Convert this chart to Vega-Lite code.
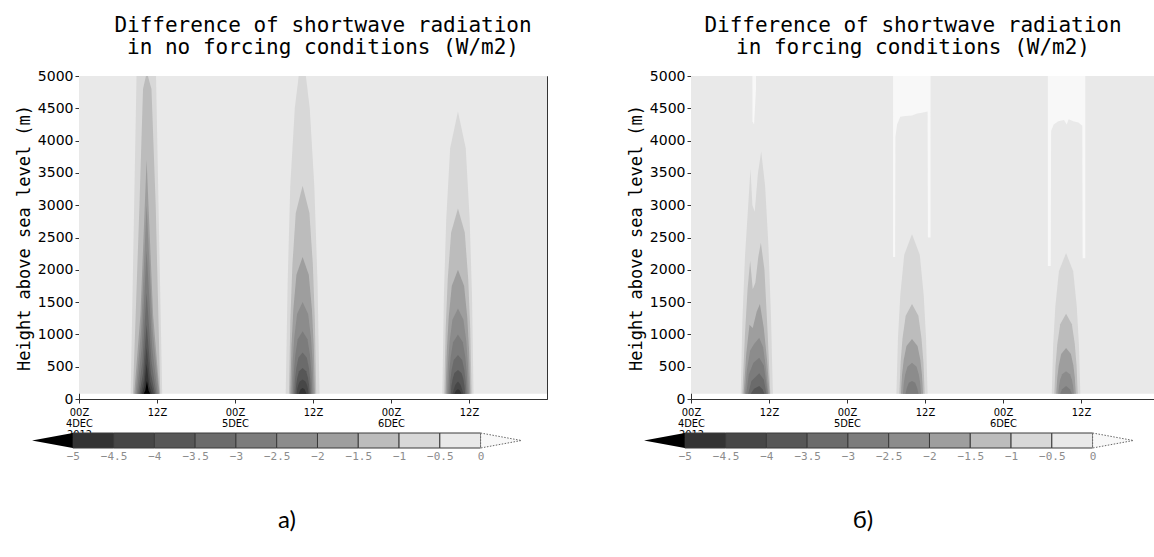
{
"$schema": "https://vega.github.io/schema/vega-lite/v6.json",
"background": "white",
"padding": {"left": 14, "top": 14, "right": 0, "bottom": 0},
"spacing": 32,
"config": {
  "font": "DejaVu Sans",
  "view": {"stroke": "#333333", "strokeWidth": 1},
  "title": {"font": "DejaVu Sans Mono", "fontSize": 21, "fontWeight": "normal", "color": "#000000", "lineHeight": 22, "offset": 11, "anchor": "middle"},
  "axis": {"grid": false, "domainColor": "#333333", "tickColor": "#333333", "labelColor": "#000000", "titleColor": "#000000", "titleFontWeight": "normal", "labelFont": "DejaVu Sans", "titleFont": "DejaVu Sans Mono"}
},
"datasets": {
  "A": [
    {"band":"k00","plume":"bg","t":0,"lo":80,"hi":5000},{"band":"k00","plume":"bg","t":72,"lo":80,"hi":5000},
    {"band":"k02","plume":"A","t":7.95,"lo":80,"hi":80},{"band":"k02","plume":"A","t":8.85,"lo":80,"hi":5000},{"band":"k02","plume":"A","t":11.85,"lo":80,"hi":5000},{"band":"k02","plume":"A","t":12.8,"lo":80,"hi":80},
    {"band":"k02","plume":"B","t":31.8,"lo":80,"hi":80},{"band":"k02","plume":"B","t":32.1,"lo":80,"hi":1800},{"band":"k02","plume":"B","t":32.5,"lo":80,"hi":3300},{"band":"k02","plume":"B","t":33.2,"lo":80,"hi":4500},{"band":"k02","plume":"B","t":33.8,"lo":80,"hi":5000},{"band":"k02","plume":"B","t":34.9,"lo":80,"hi":5000},{"band":"k02","plume":"B","t":35.5,"lo":80,"hi":4500},{"band":"k02","plume":"B","t":36.2,"lo":80,"hi":3300},{"band":"k02","plume":"B","t":36.7,"lo":80,"hi":1800},{"band":"k02","plume":"B","t":37.0,"lo":80,"hi":80},
    {"band":"k02","plume":"C","t":55.9,"lo":80,"hi":80},{"band":"k02","plume":"C","t":56.14,"lo":80,"hi":1610},{"band":"k02","plume":"C","t":56.5,"lo":80,"hi":2789},{"band":"k02","plume":"C","t":57.1,"lo":80,"hi":3882},{"band":"k02","plume":"C","t":58.3,"lo":80,"hi":4450},{"band":"k02","plume":"C","t":59.5,"lo":80,"hi":3882},{"band":"k02","plume":"C","t":60.1,"lo":80,"hi":2789},{"band":"k02","plume":"C","t":60.46,"lo":80,"hi":1610},{"band":"k02","plume":"C","t":60.7,"lo":80,"hi":80},
    {"band":"k03","plume":"A","t":8.3,"lo":80,"hi":80},{"band":"k03","plume":"A","t":9.3,"lo":80,"hi":3000},{"band":"k03","plume":"A","t":9.85,"lo":80,"hi":4800},{"band":"k03","plume":"A","t":10.3,"lo":80,"hi":5000},{"band":"k03","plume":"A","t":10.6,"lo":80,"hi":5000},{"band":"k03","plume":"A","t":11.15,"lo":80,"hi":4800},{"band":"k03","plume":"A","t":11.8,"lo":80,"hi":3000},{"band":"k03","plume":"A","t":12.5,"lo":80,"hi":80},
    {"band":"k03","plume":"B","t":32.3,"lo":80,"hi":80},{"band":"k03","plume":"B","t":32.51,"lo":80,"hi":1207},{"band":"k03","plume":"B","t":32.83,"lo":80,"hi":2076},{"band":"k03","plume":"B","t":33.35,"lo":80,"hi":2881},{"band":"k03","plume":"B","t":34.4,"lo":80,"hi":3300},{"band":"k03","plume":"B","t":35.45,"lo":80,"hi":2881},{"band":"k03","plume":"B","t":35.98,"lo":80,"hi":2076},{"band":"k03","plume":"B","t":36.29,"lo":80,"hi":1207},{"band":"k03","plume":"B","t":36.5,"lo":80,"hi":80},
    {"band":"k03","plume":"C","t":56.2,"lo":80,"hi":80},{"band":"k03","plume":"C","t":56.41,"lo":80,"hi":1085},{"band":"k03","plume":"C","t":56.73,"lo":80,"hi":1859},{"band":"k03","plume":"C","t":57.25,"lo":80,"hi":2577},{"band":"k03","plume":"C","t":58.3,"lo":80,"hi":2950},{"band":"k03","plume":"C","t":59.35,"lo":80,"hi":2577},{"band":"k03","plume":"C","t":59.88,"lo":80,"hi":1859},{"band":"k03","plume":"C","t":60.19,"lo":80,"hi":1085},{"band":"k03","plume":"C","t":60.4,"lo":80,"hi":80},
    {"band":"k04","plume":"A","t":8.5,"lo":80,"hi":80},{"band":"k04","plume":"A","t":9.45,"lo":80,"hi":1300},{"band":"k04","plume":"A","t":10.4,"lo":80,"hi":3700},{"band":"k04","plume":"A","t":11.4,"lo":80,"hi":1300},{"band":"k04","plume":"A","t":12.4,"lo":80,"hi":80},
    {"band":"k04","plume":"B","t":32.5,"lo":80,"hi":80},{"band":"k04","plume":"B","t":32.69,"lo":80,"hi":822},{"band":"k04","plume":"B","t":32.98,"lo":80,"hi":1394},{"band":"k04","plume":"B","t":33.45,"lo":80,"hi":1924},{"band":"k04","plume":"B","t":34.4,"lo":80,"hi":2200},{"band":"k04","plume":"B","t":35.35,"lo":80,"hi":1924},{"band":"k04","plume":"B","t":35.83,"lo":80,"hi":1394},{"band":"k04","plume":"B","t":36.11,"lo":80,"hi":822},{"band":"k04","plume":"B","t":36.3,"lo":80,"hi":80},
    {"band":"k04","plume":"C","t":56.4,"lo":80,"hi":80},{"band":"k04","plume":"C","t":56.59,"lo":80,"hi":752},{"band":"k04","plume":"C","t":56.88,"lo":80,"hi":1270},{"band":"k04","plume":"C","t":57.35,"lo":80,"hi":1750},{"band":"k04","plume":"C","t":58.3,"lo":80,"hi":2000},{"band":"k04","plume":"C","t":59.25,"lo":80,"hi":1750},{"band":"k04","plume":"C","t":59.73,"lo":80,"hi":1270},{"band":"k04","plume":"C","t":60.01,"lo":80,"hi":752},{"band":"k04","plume":"C","t":60.2,"lo":80,"hi":80},
    {"band":"k05","plume":"A","t":8.7,"lo":80,"hi":80},{"band":"k05","plume":"A","t":9.55,"lo":80,"hi":1050},{"band":"k05","plume":"A","t":10.4,"lo":80,"hi":3000},{"band":"k05","plume":"A","t":11.35,"lo":80,"hi":1050},{"band":"k05","plume":"A","t":12.3,"lo":80,"hi":80},
    {"band":"k05","plume":"B","t":32.7,"lo":80,"hi":80},{"band":"k05","plume":"B","t":32.87,"lo":80,"hi":577},{"band":"k05","plume":"B","t":33.13,"lo":80,"hi":960},{"band":"k05","plume":"B","t":33.55,"lo":80,"hi":1315},{"band":"k05","plume":"B","t":34.4,"lo":80,"hi":1500},{"band":"k05","plume":"B","t":35.25,"lo":80,"hi":1315},{"band":"k05","plume":"B","t":35.68,"lo":80,"hi":960},{"band":"k05","plume":"B","t":35.93,"lo":80,"hi":577},{"band":"k05","plume":"B","t":36.1,"lo":80,"hi":80},
    {"band":"k05","plume":"C","t":56.6,"lo":80,"hi":80},{"band":"k05","plume":"C","t":56.77,"lo":80,"hi":542},{"band":"k05","plume":"C","t":57.03,"lo":80,"hi":898},{"band":"k05","plume":"C","t":57.45,"lo":80,"hi":1228},{"band":"k05","plume":"C","t":58.3,"lo":80,"hi":1400},{"band":"k05","plume":"C","t":59.15,"lo":80,"hi":1228},{"band":"k05","plume":"C","t":59.58,"lo":80,"hi":898},{"band":"k05","plume":"C","t":59.83,"lo":80,"hi":542},{"band":"k05","plume":"C","t":60.0,"lo":80,"hi":80},
    {"band":"k06","plume":"A","t":8.9,"lo":80,"hi":80},{"band":"k06","plume":"A","t":9.65,"lo":80,"hi":800},{"band":"k06","plume":"A","t":10.4,"lo":80,"hi":2300},{"band":"k06","plume":"A","t":11.25,"lo":80,"hi":800},{"band":"k06","plume":"A","t":12.1,"lo":80,"hi":80},
    {"band":"k06","plume":"B","t":32.9,"lo":80,"hi":80},{"band":"k06","plume":"B","t":33.05,"lo":80,"hi":420},{"band":"k06","plume":"B","t":33.28,"lo":80,"hi":681},{"band":"k06","plume":"B","t":33.65,"lo":80,"hi":924},{"band":"k06","plume":"B","t":34.4,"lo":80,"hi":1050},{"band":"k06","plume":"B","t":35.15,"lo":80,"hi":924},{"band":"k06","plume":"B","t":35.53,"lo":80,"hi":681},{"band":"k06","plume":"B","t":35.75,"lo":80,"hi":420},{"band":"k06","plume":"B","t":35.9,"lo":80,"hi":80},
    {"band":"k06","plume":"C","t":56.8,"lo":80,"hi":80},{"band":"k06","plume":"C","t":56.95,"lo":80,"hi":402},{"band":"k06","plume":"C","t":57.18,"lo":80,"hi":650},{"band":"k06","plume":"C","t":57.55,"lo":80,"hi":880},{"band":"k06","plume":"C","t":58.3,"lo":80,"hi":1000},{"band":"k06","plume":"C","t":59.05,"lo":80,"hi":880},{"band":"k06","plume":"C","t":59.43,"lo":80,"hi":650},{"band":"k06","plume":"C","t":59.65,"lo":80,"hi":402},{"band":"k06","plume":"C","t":59.8,"lo":80,"hi":80},
    {"band":"k07","plume":"A","t":9.1,"lo":80,"hi":80},{"band":"k07","plume":"A","t":9.75,"lo":80,"hi":580},{"band":"k07","plume":"A","t":10.4,"lo":80,"hi":1650},{"band":"k07","plume":"A","t":11.15,"lo":80,"hi":580},{"band":"k07","plume":"A","t":11.9,"lo":80,"hi":80},
    {"band":"k07","plume":"B","t":33.1,"lo":80,"hi":80},{"band":"k07","plume":"B","t":33.23,"lo":80,"hi":304},{"band":"k07","plume":"B","t":33.43,"lo":80,"hi":477},{"band":"k07","plume":"B","t":33.75,"lo":80,"hi":637},{"band":"k07","plume":"B","t":34.4,"lo":80,"hi":720},{"band":"k07","plume":"B","t":35.05,"lo":80,"hi":637},{"band":"k07","plume":"B","t":35.38,"lo":80,"hi":477},{"band":"k07","plume":"B","t":35.57,"lo":80,"hi":304},{"band":"k07","plume":"B","t":35.7,"lo":80,"hi":80},
    {"band":"k07","plume":"C","t":57.0,"lo":80,"hi":80},{"band":"k07","plume":"C","t":57.13,"lo":80,"hi":290},{"band":"k07","plume":"C","t":57.33,"lo":80,"hi":452},{"band":"k07","plume":"C","t":57.65,"lo":80,"hi":602},{"band":"k07","plume":"C","t":58.3,"lo":80,"hi":680},{"band":"k07","plume":"C","t":58.95,"lo":80,"hi":602},{"band":"k07","plume":"C","t":59.28,"lo":80,"hi":452},{"band":"k07","plume":"C","t":59.47,"lo":80,"hi":290},{"band":"k07","plume":"C","t":59.6,"lo":80,"hi":80},
    {"band":"k08","plume":"A","t":9.3,"lo":80,"hi":80},{"band":"k08","plume":"A","t":9.85,"lo":80,"hi":400},{"band":"k08","plume":"A","t":10.4,"lo":80,"hi":1150},{"band":"k08","plume":"A","t":11.05,"lo":80,"hi":400},{"band":"k08","plume":"A","t":11.7,"lo":80,"hi":80},
    {"band":"k08","plume":"B","t":33.3,"lo":80,"hi":80},{"band":"k08","plume":"B","t":33.41,"lo":80,"hi":220},{"band":"k08","plume":"B","t":33.58,"lo":80,"hi":328},{"band":"k08","plume":"B","t":33.85,"lo":80,"hi":428},{"band":"k08","plume":"B","t":34.4,"lo":80,"hi":480},{"band":"k08","plume":"B","t":34.95,"lo":80,"hi":428},{"band":"k08","plume":"B","t":35.23,"lo":80,"hi":328},{"band":"k08","plume":"B","t":35.39,"lo":80,"hi":220},{"band":"k08","plume":"B","t":35.5,"lo":80,"hi":80},
    {"band":"k08","plume":"C","t":57.2,"lo":80,"hi":80},{"band":"k08","plume":"C","t":57.31,"lo":80,"hi":210},{"band":"k08","plume":"C","t":57.48,"lo":80,"hi":309},{"band":"k08","plume":"C","t":57.75,"lo":80,"hi":402},{"band":"k08","plume":"C","t":58.3,"lo":80,"hi":450},{"band":"k08","plume":"C","t":58.85,"lo":80,"hi":402},{"band":"k08","plume":"C","t":59.13,"lo":80,"hi":309},{"band":"k08","plume":"C","t":59.29,"lo":80,"hi":210},{"band":"k08","plume":"C","t":59.4,"lo":80,"hi":80},
    {"band":"k09","plume":"A","t":9.5,"lo":80,"hi":80},{"band":"k09","plume":"A","t":9.95,"lo":80,"hi":280},{"band":"k09","plume":"A","t":10.4,"lo":80,"hi":800},{"band":"k09","plume":"A","t":10.95,"lo":80,"hi":280},{"band":"k09","plume":"A","t":11.5,"lo":80,"hi":80},
    {"band":"k09","plume":"B","t":33.5,"lo":80,"hi":80},{"band":"k09","plume":"B","t":33.59,"lo":80,"hi":157},{"band":"k09","plume":"B","t":33.73,"lo":80,"hi":216},{"band":"k09","plume":"B","t":33.95,"lo":80,"hi":271},{"band":"k09","plume":"B","t":34.4,"lo":80,"hi":300},{"band":"k09","plume":"B","t":34.85,"lo":80,"hi":271},{"band":"k09","plume":"B","t":35.08,"lo":80,"hi":216},{"band":"k09","plume":"B","t":35.21,"lo":80,"hi":157},{"band":"k09","plume":"B","t":35.3,"lo":80,"hi":80},
    {"band":"k09","plume":"C","t":57.45,"lo":80,"hi":80},{"band":"k09","plume":"C","t":57.9,"lo":80,"hi":220},{"band":"k09","plume":"C","t":58.3,"lo":80,"hi":270},{"band":"k09","plume":"C","t":58.7,"lo":80,"hi":220},{"band":"k09","plume":"C","t":59.15,"lo":80,"hi":80},
    {"band":"k10","plume":"A","t":9.7,"lo":80,"hi":80},{"band":"k10","plume":"A","t":10.05,"lo":80,"hi":200},{"band":"k10","plume":"A","t":10.4,"lo":80,"hi":550},{"band":"k10","plume":"A","t":10.8,"lo":80,"hi":200},{"band":"k10","plume":"A","t":11.2,"lo":80,"hi":80},
    {"band":"k10","plume":"B","t":33.8,"lo":80,"hi":80},{"band":"k10","plume":"B","t":34.1,"lo":80,"hi":150},{"band":"k10","plume":"B","t":34.4,"lo":80,"hi":170},{"band":"k10","plume":"B","t":34.7,"lo":80,"hi":150},{"band":"k10","plume":"B","t":35.0,"lo":80,"hi":80},
    {"band":"k10","plume":"C","t":57.75,"lo":80,"hi":80},{"band":"k10","plume":"C","t":58.0,"lo":80,"hi":130},{"band":"k10","plume":"C","t":58.3,"lo":80,"hi":150},{"band":"k10","plume":"C","t":58.6,"lo":80,"hi":130},{"band":"k10","plume":"C","t":58.85,"lo":80,"hi":80},
    {"band":"k11","plume":"A","t":9.95,"lo":80,"hi":80},{"band":"k11","plume":"A","t":10.2,"lo":80,"hi":130},{"band":"k11","plume":"A","t":10.45,"lo":80,"hi":280},{"band":"k11","plume":"A","t":10.7,"lo":80,"hi":130},{"band":"k11","plume":"A","t":10.95,"lo":80,"hi":80}
  ],
  "B": [
    {"band":"k00","plume":"bg","t":0,"lo":80,"hi":5000},{"band":"k00","plume":"bg","t":72,"lo":80,"hi":5000},
    {"band":"k01","plume":"A","t":9.45,"lo":4300,"hi":5000},{"band":"k01","plume":"A","t":9.7,"lo":4250,"hi":5000},{"band":"k01","plume":"A","t":10.0,"lo":4800,"hi":5000},
    {"band":"k01","plume":"B","t":31.09,"lo":2200,"hi":5000},{"band":"k01","plume":"B","t":31.4,"lo":2200,"hi":5000},{"band":"k01","plume":"B","t":31.45,"lo":4050,"hi":5000},{"band":"k01","plume":"B","t":31.7,"lo":4250,"hi":5000},{"band":"k01","plume":"B","t":32.2,"lo":4370,"hi":5000},{"band":"k01","plume":"B","t":33.0,"lo":4380,"hi":5000},{"band":"k01","plume":"B","t":34.0,"lo":4390,"hi":5000},{"band":"k01","plume":"B","t":34.8,"lo":4420,"hi":5000},{"band":"k01","plume":"B","t":35.5,"lo":4430,"hi":5000},{"band":"k01","plume":"B","t":36.4,"lo":4450,"hi":5000},{"band":"k01","plume":"B","t":36.45,"lo":2500,"hi":5000},{"band":"k01","plume":"B","t":36.85,"lo":2500,"hi":5000},
    {"band":"k01","plume":"C","t":54.9,"lo":2060,"hi":5000},{"band":"k01","plume":"C","t":55.35,"lo":2060,"hi":5000},{"band":"k01","plume":"C","t":55.4,"lo":4150,"hi":5000},{"band":"k01","plume":"C","t":55.8,"lo":4250,"hi":5000},{"band":"k01","plume":"C","t":56.5,"lo":4300,"hi":5000},{"band":"k01","plume":"C","t":57.4,"lo":4320,"hi":5000},{"band":"k01","plume":"C","t":57.8,"lo":4250,"hi":5000},{"band":"k01","plume":"C","t":58.1,"lo":4330,"hi":5000},{"band":"k01","plume":"C","t":58.8,"lo":4300,"hi":5000},{"band":"k01","plume":"C","t":59.6,"lo":4280,"hi":5000},{"band":"k01","plume":"C","t":60.2,"lo":4230,"hi":5000},{"band":"k01","plume":"C","t":60.25,"lo":2180,"hi":5000},{"band":"k01","plume":"C","t":60.65,"lo":2180,"hi":5000},
    {"band":"k02","plume":"A","t":7.65,"lo":80,"hi":80},{"band":"k02","plume":"A","t":7.9,"lo":80,"hi":1200},{"band":"k02","plume":"A","t":8.3,"lo":80,"hi":2200},{"band":"k02","plume":"A","t":8.8,"lo":80,"hi":3000},{"band":"k02","plume":"A","t":9.15,"lo":80,"hi":3560},{"band":"k02","plume":"A","t":9.45,"lo":80,"hi":3000},{"band":"k02","plume":"A","t":9.8,"lo":80,"hi":2900},{"band":"k02","plume":"A","t":10.3,"lo":80,"hi":3500},{"band":"k02","plume":"A","t":10.8,"lo":80,"hi":3830},{"band":"k02","plume":"A","t":11.4,"lo":80,"hi":3300},{"band":"k02","plume":"A","t":11.9,"lo":80,"hi":2400},{"band":"k02","plume":"A","t":12.3,"lo":80,"hi":1300},{"band":"k02","plume":"A","t":12.6,"lo":80,"hi":80},
    {"band":"k02","plume":"B","t":31.6,"lo":80,"hi":80},{"band":"k02","plume":"B","t":31.84,"lo":80,"hi":945},{"band":"k02","plume":"B","t":32.2,"lo":80,"hi":1611},{"band":"k02","plume":"B","t":32.8,"lo":80,"hi":2229},{"band":"k02","plume":"B","t":34.0,"lo":80,"hi":2550},{"band":"k02","plume":"B","t":35.2,"lo":80,"hi":2229},{"band":"k02","plume":"B","t":35.8,"lo":80,"hi":1611},{"band":"k02","plume":"B","t":36.16,"lo":80,"hi":945},{"band":"k02","plume":"B","t":36.4,"lo":80,"hi":80},
    {"band":"k02","plume":"C","t":55.5,"lo":80,"hi":80},{"band":"k02","plume":"C","t":55.72,"lo":80,"hi":843},{"band":"k02","plume":"C","t":56.05,"lo":80,"hi":1432},{"band":"k02","plume":"C","t":56.6,"lo":80,"hi":1977},{"band":"k02","plume":"C","t":57.7,"lo":80,"hi":2260},{"band":"k02","plume":"C","t":58.8,"lo":80,"hi":1977},{"band":"k02","plume":"C","t":59.35,"lo":80,"hi":1432},{"band":"k02","plume":"C","t":59.68,"lo":80,"hi":843},{"band":"k02","plume":"C","t":59.9,"lo":80,"hi":80},
    {"band":"k03","plume":"A","t":7.9,"lo":80,"hi":80},{"band":"k03","plume":"A","t":8.3,"lo":80,"hi":1000},{"band":"k03","plume":"A","t":8.7,"lo":80,"hi":1700},{"band":"k03","plume":"A","t":9.1,"lo":80,"hi":2140},{"band":"k03","plume":"A","t":9.5,"lo":80,"hi":1700},{"band":"k03","plume":"A","t":9.9,"lo":80,"hi":1800},{"band":"k03","plume":"A","t":10.35,"lo":80,"hi":2200},{"band":"k03","plume":"A","t":10.75,"lo":80,"hi":2420},{"band":"k03","plume":"A","t":11.3,"lo":80,"hi":2000},{"band":"k03","plume":"A","t":11.8,"lo":80,"hi":1000},{"band":"k03","plume":"A","t":12.2,"lo":80,"hi":80},
    {"band":"k03","plume":"B","t":32.05,"lo":80,"hi":80},{"band":"k03","plume":"B","t":32.25,"lo":80,"hi":567},{"band":"k03","plume":"B","t":32.54,"lo":80,"hi":942},{"band":"k03","plume":"B","t":33.03,"lo":80,"hi":1289},{"band":"k03","plume":"B","t":34.0,"lo":80,"hi":1470},{"band":"k03","plume":"B","t":34.98,"lo":80,"hi":1289},{"band":"k03","plume":"B","t":35.46,"lo":80,"hi":942},{"band":"k03","plume":"B","t":35.76,"lo":80,"hi":567},{"band":"k03","plume":"B","t":35.95,"lo":80,"hi":80},
    {"band":"k03","plume":"C","t":55.9,"lo":80,"hi":80},{"band":"k03","plume":"C","t":56.08,"lo":80,"hi":514},{"band":"k03","plume":"C","t":56.35,"lo":80,"hi":849},{"band":"k03","plume":"C","t":56.8,"lo":80,"hi":1159},{"band":"k03","plume":"C","t":57.7,"lo":80,"hi":1320},{"band":"k03","plume":"C","t":58.6,"lo":80,"hi":1159},{"band":"k03","plume":"C","t":59.05,"lo":80,"hi":849},{"band":"k03","plume":"C","t":59.32,"lo":80,"hi":514},{"band":"k03","plume":"C","t":59.5,"lo":80,"hi":80},
    {"band":"k04","plume":"A","t":8.1,"lo":80,"hi":80},{"band":"k04","plume":"A","t":8.5,"lo":80,"hi":700},{"band":"k04","plume":"A","t":9.0,"lo":80,"hi":1150},{"band":"k04","plume":"A","t":9.5,"lo":80,"hi":1100},{"band":"k04","plume":"A","t":10.1,"lo":80,"hi":1350},{"band":"k04","plume":"A","t":10.6,"lo":80,"hi":1470},{"band":"k04","plume":"A","t":11.2,"lo":80,"hi":1100},{"band":"k04","plume":"A","t":11.7,"lo":80,"hi":600},{"band":"k04","plume":"A","t":12.1,"lo":80,"hi":80},
    {"band":"k04","plume":"B","t":32.3,"lo":80,"hi":80},{"band":"k04","plume":"B","t":32.47,"lo":80,"hi":378},{"band":"k04","plume":"B","t":32.73,"lo":80,"hi":607},{"band":"k04","plume":"B","t":33.15,"lo":80,"hi":820},{"band":"k04","plume":"B","t":34.0,"lo":80,"hi":930},{"band":"k04","plume":"B","t":34.85,"lo":80,"hi":820},{"band":"k04","plume":"B","t":35.28,"lo":80,"hi":607},{"band":"k04","plume":"B","t":35.53,"lo":80,"hi":378},{"band":"k04","plume":"B","t":35.7,"lo":80,"hi":80},
    {"band":"k04","plume":"C","t":56.2,"lo":80,"hi":80},{"band":"k04","plume":"C","t":56.35,"lo":80,"hi":329},{"band":"k04","plume":"C","t":56.58,"lo":80,"hi":520},{"band":"k04","plume":"C","t":56.95,"lo":80,"hi":698},{"band":"k04","plume":"C","t":57.7,"lo":80,"hi":790},{"band":"k04","plume":"C","t":58.45,"lo":80,"hi":698},{"band":"k04","plume":"C","t":58.83,"lo":80,"hi":520},{"band":"k04","plume":"C","t":59.05,"lo":80,"hi":329},{"band":"k04","plume":"C","t":59.2,"lo":80,"hi":80},
    {"band":"k05","plume":"A","t":8.3,"lo":80,"hi":80},{"band":"k05","plume":"A","t":8.6,"lo":80,"hi":450},{"band":"k05","plume":"A","t":9.1,"lo":80,"hi":750},{"band":"k05","plume":"A","t":9.7,"lo":80,"hi":850},{"band":"k05","plume":"A","t":10.5,"lo":80,"hi":950},{"band":"k05","plume":"A","t":11.1,"lo":80,"hi":800},{"band":"k05","plume":"A","t":11.5,"lo":80,"hi":500},{"band":"k05","plume":"A","t":11.9,"lo":80,"hi":80},
    {"band":"k05","plume":"B","t":32.6,"lo":80,"hi":80},{"band":"k05","plume":"B","t":32.74,"lo":80,"hi":248},{"band":"k05","plume":"B","t":32.95,"lo":80,"hi":378},{"band":"k05","plume":"B","t":33.3,"lo":80,"hi":498},{"band":"k05","plume":"B","t":34.0,"lo":80,"hi":560},{"band":"k05","plume":"B","t":34.7,"lo":80,"hi":498},{"band":"k05","plume":"B","t":35.05,"lo":80,"hi":378},{"band":"k05","plume":"B","t":35.26,"lo":80,"hi":248},{"band":"k05","plume":"B","t":35.4,"lo":80,"hi":80},
    {"band":"k05","plume":"C","t":56.5,"lo":80,"hi":80},{"band":"k05","plume":"C","t":56.62,"lo":80,"hi":200},{"band":"k05","plume":"C","t":56.8,"lo":80,"hi":300},{"band":"k05","plume":"C","t":57.1,"lo":80,"hi":385},{"band":"k05","plume":"C","t":57.7,"lo":80,"hi":430},{"band":"k05","plume":"C","t":58.3,"lo":80,"hi":385},{"band":"k05","plume":"C","t":58.6,"lo":80,"hi":300},{"band":"k05","plume":"C","t":58.78,"lo":80,"hi":200},{"band":"k05","plume":"C","t":58.9,"lo":80,"hi":80},
    {"band":"k06","plume":"A","t":8.5,"lo":80,"hi":80},{"band":"k06","plume":"A","t":8.9,"lo":80,"hi":380},{"band":"k06","plume":"A","t":9.6,"lo":80,"hi":560},{"band":"k06","plume":"A","t":10.5,"lo":80,"hi":640},{"band":"k06","plume":"A","t":11.2,"lo":80,"hi":520},{"band":"k06","plume":"A","t":11.8,"lo":80,"hi":80},
    {"band":"k06","plume":"B","t":33.0,"lo":80,"hi":80},{"band":"k06","plume":"B","t":33.2,"lo":80,"hi":170},{"band":"k06","plume":"B","t":33.5,"lo":80,"hi":250},{"band":"k06","plume":"B","t":34.0,"lo":80,"hi":280},{"band":"k06","plume":"B","t":34.5,"lo":80,"hi":250},{"band":"k06","plume":"B","t":34.8,"lo":80,"hi":170},{"band":"k06","plume":"B","t":35.0,"lo":80,"hi":80},
    {"band":"k06","plume":"C","t":56.8,"lo":80,"hi":80},{"band":"k06","plume":"C","t":57.1,"lo":80,"hi":150},{"band":"k06","plume":"C","t":57.7,"lo":80,"hi":200},{"band":"k06","plume":"C","t":58.3,"lo":80,"hi":150},{"band":"k06","plume":"C","t":58.6,"lo":80,"hi":80},
    {"band":"k07","plume":"A","t":8.8,"lo":80,"hi":80},{"band":"k07","plume":"A","t":9.3,"lo":80,"hi":280},{"band":"k07","plume":"A","t":10.5,"lo":80,"hi":400},{"band":"k07","plume":"A","t":11.2,"lo":80,"hi":300},{"band":"k07","plume":"A","t":11.6,"lo":80,"hi":80},
    {"band":"k08","plume":"A","t":9.2,"lo":80,"hi":80},{"band":"k08","plume":"A","t":9.7,"lo":80,"hi":160},{"band":"k08","plume":"A","t":10.5,"lo":80,"hi":200},{"band":"k08","plume":"A","t":11.0,"lo":80,"hi":150},{"band":"k08","plume":"A","t":11.3,"lo":80,"hi":80}
  ],
  "cb": [
    {"band":"k10","lo":-5,"hi":-4.5},{"band":"k09","lo":-4.5,"hi":-4},{"band":"k08","lo":-4,"hi":-3.5},{"band":"k07","lo":-3.5,"hi":-3},{"band":"k06","lo":-3,"hi":-2.5},{"band":"k05","lo":-2.5,"hi":-2},{"band":"k04","lo":-2,"hi":-1.5},{"band":"k03","lo":-1.5,"hi":-1},{"band":"k02","lo":-1,"hi":-0.5},{"band":"k00","lo":-0.5,"hi":0}
  ],
  "cbl": [{"band":"k11","v":-5.5,"top":0.5,"bot":0.5},{"band":"k11","v":-5,"top":1,"bot":0}],
  "cbr": [{"band":"k01","v":0,"top":1,"bot":0},{"band":"k01","v":0.5,"top":0.5,"bot":0.5}]
},
"hconcat": [
  {
    "bounds": "flush", "spacing": 34, "center": true,
    "vconcat": [
      {
        "width": 468, "height": 323,
        "data": {"name": "A"},
        "title": {"text": ["Difference of shortwave radiation", "in no forcing conditions (W/m2)"], "dx": 10},
        "mark": {"type": "area", "interpolate": "linear"},
        "encoding": {
          "x": {"field": "t", "type": "quantitative", "scale": {"domain": [0, 72], "nice": false, "zero": false},
                "axis": {"values": [0, 12, 24, 36, 48, 60], "title": null, "labelExpr": "datum.value == 0 ? ['00Z','4DEC','2012'] : datum.value == 24 ? ['00Z','5DEC'] : datum.value == 48 ? ['00Z','6DEC'] : '12Z'", "labelFont": "DejaVu Sans Condensed, Liberation Sans Narrow, DejaVu Sans", "labelFontSize": 11, "labelLineHeight": 11, "labelPadding": 3, "tickSize": 4, "labelOverlap": false, "labelFlush": false, "labelBaseline": "top"}},
          "y": {"field": "hi", "type": "quantitative", "stack": null, "scale": {"domain": [0, 5000], "nice": false},
                "axis": {"values": [0, 500, 1000, 1500, 2000, 2500, 3000, 3500, 4000, 4500, 5000], "format": "d", "title": "Height above sea level (m)", "titleFontSize": 17, "titlePadding": 4, "labelFontSize": 14, "labelPadding": 2, "tickSize": 4, "labelFlush": false, "labelOverlap": false}},
          "y2": {"field": "lo"},
          "color": {"field": "band", "type": "nominal", "legend": null, "scale": {"domain": ["k00","k01","k02","k03","k04","k05","k06","k07","k08","k09","k10","k11"], "range": ["#e9e9e9","#f8f8f8","#d8d8d8","#bcbcbc","#9e9e9e","#8c8c8c","#7c7c7c","#6b6b6b","#575757","#474747","#333333","#000000"]}},
          "detail": {"field": "plume"}
        }
      },
      {
        "width": 562, "height": 15,
        "view": {"stroke": null},
        "title": {"text": "a)", "orient": "bottom", "dx": -26, "offset": 48, "font": "Lato", "fontSize": 24, "fontWeight": "normal", "anchor": "middle"},
        "layer": [
          {"data": {"name": "cb"}, "mark": {"type": "rect", "stroke": "#3a3a3a", "strokeWidth": 1},
           "encoding": {
             "x": {"field": "lo", "type": "quantitative", "scale": {"domain": [-5.5, 1.39], "nice": false, "zero": false},
                   "axis": {"values": [-5, -4.5, -4, -3.5, -3, -2.5, -2, -1.5, -1, -0.5, 0], "format": ".1~f", "title": null, "domain": false, "ticks": false, "labelFont": "DejaVu Sans Mono", "labelColor": "#8c8c8c", "labelFontSize": 11, "labelPadding": 2, "labelFlush": false, "labelOverlap": false}},
             "x2": {"field": "hi"},
             "color": {"field": "band", "type": "nominal", "legend": null, "scale": {"domain": ["k00","k01","k02","k03","k04","k05","k06","k07","k08","k09","k10","k11"], "range": ["#e9e9e9","#f8f8f8","#d8d8d8","#bcbcbc","#9e9e9e","#8c8c8c","#7c7c7c","#6b6b6b","#575757","#474747","#333333","#000000"]}}
           }},
          {"data": {"name": "cbl"}, "mark": {"type": "area"},
           "encoding": {
             "x": {"field": "v", "type": "quantitative"},
             "y": {"field": "top", "type": "quantitative", "stack": null, "scale": {"domain": [0, 1], "nice": false}, "axis": null},
             "y2": {"field": "bot"},
             "color": {"field": "band", "type": "nominal", "legend": null}
           }},
          {"data": {"name": "cbr"}, "mark": {"type": "area", "stroke": "#666666", "strokeDash": [1.5, 1.5], "strokeWidth": 1},
           "encoding": {
             "x": {"field": "v", "type": "quantitative"},
             "y": {"field": "top", "type": "quantitative", "stack": null, "axis": null},
             "y2": {"field": "bot"},
             "color": {"field": "band", "type": "nominal", "legend": null}
           }}
        ]
      }
    ]
  },
  {
    "bounds": "flush", "spacing": 34, "center": true,
    "vconcat": [
      {
        "width": 468, "height": 323,
        "data": {"name": "B"},
        "title": {"text": ["Difference of shortwave radiation", "in forcing conditions (W/m2)"], "dx": -12},
        "mark": {"type": "area", "interpolate": "linear"},
        "encoding": {
          "x": {"field": "t", "type": "quantitative", "scale": {"domain": [0, 72], "nice": false, "zero": false},
                "axis": {"values": [0, 12, 24, 36, 48, 60], "title": null, "labelExpr": "datum.value == 0 ? ['00Z','4DEC','2012'] : datum.value == 24 ? ['00Z','5DEC'] : datum.value == 48 ? ['00Z','6DEC'] : '12Z'", "labelFont": "DejaVu Sans Condensed, Liberation Sans Narrow, DejaVu Sans", "labelFontSize": 11, "labelLineHeight": 11, "labelPadding": 3, "tickSize": 4, "labelOverlap": false, "labelFlush": false, "labelBaseline": "top"}},
          "y": {"field": "hi", "type": "quantitative", "stack": null, "scale": {"domain": [0, 5000], "nice": false},
                "axis": {"values": [0, 500, 1000, 1500, 2000, 2500, 3000, 3500, 4000, 4500, 5000], "format": "d", "title": "Height above sea level (m)", "titleFontSize": 17, "titlePadding": 4, "labelFontSize": 14, "labelPadding": 2, "tickSize": 4, "labelFlush": false, "labelOverlap": false}},
          "y2": {"field": "lo"},
          "color": {"field": "band", "type": "nominal", "legend": null, "scale": {"domain": ["k00","k01","k02","k03","k04","k05","k06","k07","k08","k09","k10","k11"], "range": ["#e9e9e9","#f8f8f8","#d8d8d8","#bcbcbc","#9e9e9e","#8c8c8c","#7c7c7c","#6b6b6b","#575757","#474747","#333333","#000000"]}},
          "detail": {"field": "plume"}
        }
      },
      {
        "width": 562, "height": 15,
        "view": {"stroke": null},
        "title": {"text": "б)", "orient": "bottom", "dx": -62, "offset": 48, "font": "Lato", "fontSize": 24, "fontWeight": "normal", "anchor": "middle"},
        "layer": [
          {"data": {"name": "cb"}, "mark": {"type": "rect", "stroke": "#3a3a3a", "strokeWidth": 1},
           "encoding": {
             "x": {"field": "lo", "type": "quantitative", "scale": {"domain": [-5.5, 1.39], "nice": false, "zero": false},
                   "axis": {"values": [-5, -4.5, -4, -3.5, -3, -2.5, -2, -1.5, -1, -0.5, 0], "format": ".1~f", "title": null, "domain": false, "ticks": false, "labelFont": "DejaVu Sans Mono", "labelColor": "#8c8c8c", "labelFontSize": 11, "labelPadding": 2, "labelFlush": false, "labelOverlap": false}},
             "x2": {"field": "hi"},
             "color": {"field": "band", "type": "nominal", "legend": null, "scale": {"domain": ["k00","k01","k02","k03","k04","k05","k06","k07","k08","k09","k10","k11"], "range": ["#e9e9e9","#f8f8f8","#d8d8d8","#bcbcbc","#9e9e9e","#8c8c8c","#7c7c7c","#6b6b6b","#575757","#474747","#333333","#000000"]}}
           }},
          {"data": {"name": "cbl"}, "mark": {"type": "area"},
           "encoding": {
             "x": {"field": "v", "type": "quantitative"},
             "y": {"field": "top", "type": "quantitative", "stack": null, "scale": {"domain": [0, 1], "nice": false}, "axis": null},
             "y2": {"field": "bot"},
             "color": {"field": "band", "type": "nominal", "legend": null}
           }},
          {"data": {"name": "cbr"}, "mark": {"type": "area", "stroke": "#666666", "strokeDash": [1.5, 1.5], "strokeWidth": 1},
           "encoding": {
             "x": {"field": "v", "type": "quantitative"},
             "y": {"field": "top", "type": "quantitative", "stack": null, "axis": null},
             "y2": {"field": "bot"},
             "color": {"field": "band", "type": "nominal", "legend": null}
           }}
        ]
      }
    ]
  }
]
}
